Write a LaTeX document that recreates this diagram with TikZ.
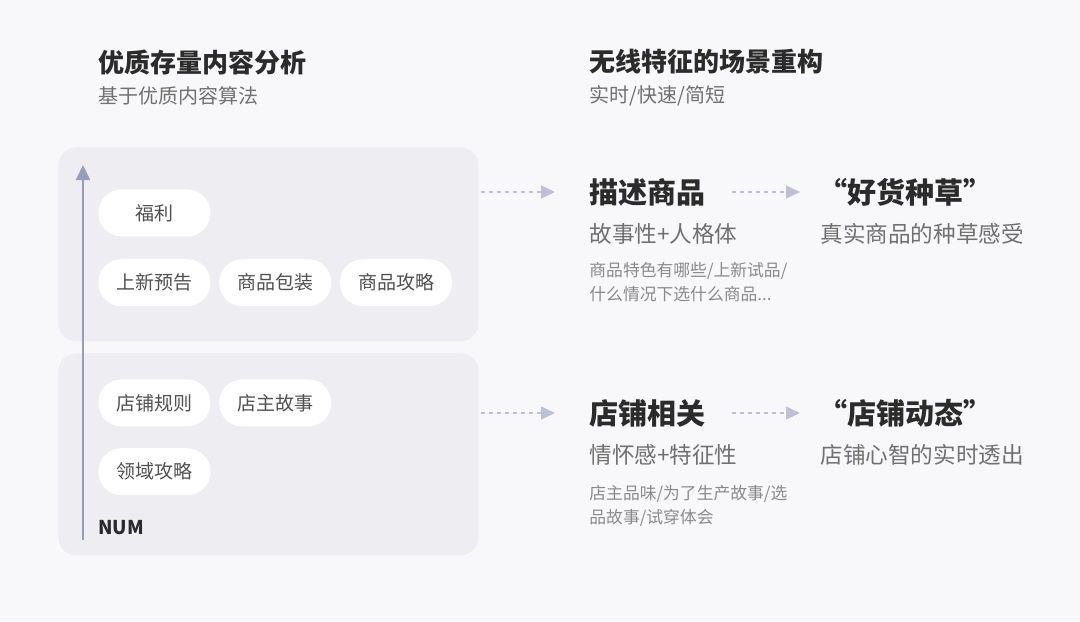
\documentclass[tikz,border=0pt]{standalone}
\usepackage{fontspec}
\setmainfont{Noto Sans CJK SC}
\usepackage{xcolor}
\usetikzlibrary{arrows.meta,positioning}
\definecolor{bgc}{HTML}{F8F8FA}
\definecolor{panelc}{HTML}{EDEDF2}
\definecolor{axisc}{HTML}{9A9DB9}
\definecolor{dashc}{HTML}{BDC0D6}
\definecolor{headc}{HTML}{2B2B2B}
\definecolor{subc}{HTML}{707070}
\definecolor{notec}{HTML}{8A8A8A}
\definecolor{pillc}{HTML}{505050}

\begin{document}
\begin{tikzpicture}[
  x=0.5pt, y=-0.5pt,
  txt/.style={inner sep=0pt, anchor=west},
  title/.style={txt, font=\fontsize{13}{15}\selectfont\bfseries, text=headc},
  subtitle/.style={txt, font=\fontsize{10}{12}\selectfont, text=subc},
  panel/.style={
    rectangle, fill=panelc, rounded corners=9pt,
    minimum width=210pt, anchor=north west, inner sep=0pt
  },
  pill/.style={
    rectangle, fill=white, rounded corners=11.5pt,
    minimum width=56pt, minimum height=23.5pt, inner sep=0pt,
    font=\fontsize{9.5}{11}\selectfont, text=pillc
  },
  head/.style={txt, font=\fontsize{14.5}{17}\selectfont\bfseries, text=headc},
  headsub/.style={txt, font=\fontsize{11.3}{13}\selectfont, text=subc},
  note/.style={inner sep=0pt, anchor=north west, align=left,
    font=\fontsize{8.4}{12}\selectfont, text=notec},
  axis/.style={-{Triangle[width=7pt,length=7.5pt]}, line width=1pt, color=axisc},
  flow/.style={-{Triangle[width=6.5pt,length=7pt]}, dashed,
    dash pattern=on 2pt off 2pt, line width=0.6pt, color=dashc}
]

\fill[bgc] (0,0) rectangle (1080,621);
\useasboundingbox (0,0) rectangle (1080,621);

\node[title] (lt) at (98,62) {优质存量内容分析};
\node[subtitle] (ls) at (98,96) {基于优质内容算法};
\node[title] (rt) at (589,62) {无线特征的场景重构};
\node[subtitle] (rs) at (589,96) {实时/快速/简短};

\node[panel, minimum height=97pt] (upper) at (58,147) {};
\node[panel, minimum height=101pt] (lower) at (58,353) {};

\node[pill, anchor=north west] (fuli) at (98,189) {福利};
\node[pill, below=11pt of fuli] (yugao) {上新预告};
\node[pill, right=4pt of yugao] (baozhuang) {商品包装};
\node[pill, right=4pt of baozhuang] (gonglue) {商品攻略};

\node[pill, anchor=north west] (guize) at (98,379) {店铺规则};
\node[pill, right=4pt of guize] (gushi) {店主故事};
\node[pill, below=10.5pt of guize] (lingyu) {领域攻略};

\coordinate (axbase) at (83,540);
\coordinate (axtop) at (83,165);
\draw[axis] (axbase) -- (axtop);
\node[txt, font=\fontsize{9.5}{11}\selectfont\bfseries, text=headc] (num) at (98,528) {NUM};

\node[head] (desc) at (589,192) {描述商品};
\node[headsub] (descsub) at (589,234) {故事性+人格体};
\node[note] (descnote) at (589,262) {商品特色有哪些/上新试品/\\什么情况下选什么商品...};
\node[head] (haohuo) at (818,192) {“好货种草”};
\node[headsub] (haohuosub) at (820,234) {真实商品的种草感受};

\node[head] (shop) at (589,413) {店铺相关};
\node[headsub] (shopsub) at (589,455) {情怀感+特征性};
\node[note] (shopnote) at (589,485) {店主品味/为了生产故事/选\\品故事/试穿体会};
\node[head] (dongtai) at (818,413) {“店铺动态”};
\node[headsub] (dongtaisub) at (820,455) {店铺心智的实时透出};

\draw[flow, shorten <=1pt, shorten >=17pt] (upper.east |- desc.west) -- (desc.west);
\draw[flow, shorten <=13pt, shorten >=9pt] (desc.east) -- (haohuo.west);
\draw[flow, shorten <=1pt, shorten >=17pt] (lower.east |- shop.west) -- (shop.west);
\draw[flow, shorten <=13pt, shorten >=9pt] (shop.east) -- (dongtai.west);
\end{tikzpicture}
\end{document}
